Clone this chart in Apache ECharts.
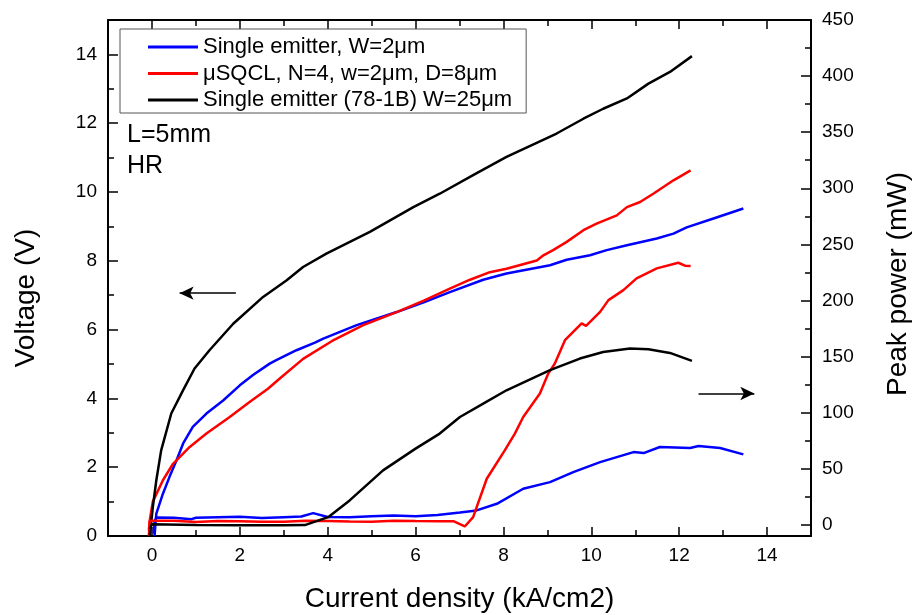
<!DOCTYPE html>
<html>
<head>
<meta charset="utf-8">
<script src="https://cdn.jsdelivr.net/npm/echarts@6/dist/echarts.min.js"></script>
<style>
html,body{margin:0;padding:0;background:#fff;}
#chart{width:915px;height:615px;}
</style>
</head>
<body>
<div id="chart"></div>
<script>
// ---------- data (x: current density kA/cm2) ----------
const seriesNames = ['Single emitter, W=2\u03bcm', '\u03bcSQCL, N=4, w=2\u03bcm, D=8\u03bcm', 'Single emitter (78-1B) W=25\u03bcm'];

// Voltage (V), left axis
const blueVoltage = [[0.06,0.0],[0.08,0.35],[0.1,0.65],[0.25,1.23],[0.4,1.72],[0.56,2.2],[0.71,2.69],[0.93,3.17],[1.24,3.56],[1.62,3.94],[2.0,4.38],[2.3,4.68],[2.68,5.01],[2.83,5.11],[3.29,5.4],[3.71,5.62],[3.9,5.74],[4.66,6.13],[5.57,6.51],[6.2,6.8],[6.78,7.09],[7.54,7.45],[8.07,7.63],[9.06,7.87],[9.44,8.03],[9.97,8.16],[10.35,8.31],[10.81,8.45],[11.49,8.65],[11.87,8.79],[12.17,8.97],[12.78,9.23],[13.46,9.52]];
const redVoltage = [[-0.07,0.0],[-0.05,0.45],[0.02,1.0],[0.25,1.62],[0.48,2.1],[0.86,2.59],[1.24,2.98],[1.77,3.46],[2.23,3.9],[2.64,4.28],[2.91,4.58],[3.44,5.15],[4.1,5.67],[4.81,6.13],[5.57,6.51],[6.2,6.85],[6.78,7.19],[7.24,7.45],[7.69,7.67],[8.07,7.77],[8.76,8.01],[8.91,8.16],[9.13,8.31],[9.44,8.55],[9.82,8.89],[10.12,9.08],[10.58,9.32],[10.81,9.56],[11.11,9.71],[11.41,9.95],[11.87,10.34],[12.26,10.63]];
const blackVoltage = [[-0.05,0.0],[0.02,0.84],[0.1,1.62],[0.21,2.49],[0.44,3.56],[0.71,4.24],[0.97,4.87],[1.31,5.4],[1.85,6.17],[2.53,6.95],[3.06,7.43],[3.44,7.82],[3.97,8.21],[4.96,8.84],[5.95,9.56],[6.55,9.95],[7.31,10.49],[8.07,11.02],[9.21,11.7],[9.82,12.13],[10.27,12.42],[10.81,12.72],[11.3,13.15],[11.79,13.49],[12.29,13.95]];

// Peak power (mW), right axis
const bluePower = [[0.04,-8],[0.06,3],[0.1,6.5],[0.5,6.2],[0.9,5.0],[1.0,6.3],[1.5,6.8],[2.0,7.2],[2.5,6.0],[3.0,6.8],[3.4,7.4],[3.67,10.4],[4.0,7.0],[4.5,6.8],[5.0,7.5],[5.5,8.2],[6.0,7.6],[6.5,8.8],[7.01,11.0],[7.39,12.8],[7.85,18.7],[8.45,32.1],[9.06,38.0],[9.59,47.0],[10.2,55.9],[10.96,64.8],[11.19,63.9],[11.56,69.3],[12.25,68.4],[12.44,70.2],[12.93,68.4],[13.46,62.8]];
const redPower = [[-0.07,-5],[-0.05,3.5],[0.5,3.5],[1.0,2.5],[1.5,3.4],[2.0,3.2],[2.5,2.6],[3.0,2.8],[3.5,3.6],[4.0,3.4],[4.5,2.9],[5.0,2.8],[5.5,3.5],[6.0,3.3],[6.55,3.2],[6.86,3.2],[7.12,-1.5],[7.31,6.8],[7.62,41.0],[8.03,66.3],[8.26,81.3],[8.45,96.1],[8.83,117.0],[9.02,134.8],[9.17,143.8],[9.4,164.6],[9.78,179.5],[9.88,177.4],[10.2,189.8],[10.39,200.3],[10.73,209.2],[11.03,219.7],[11.49,228.6],[11.98,233.6],[12.13,231.0],[12.26,230.6]];
const blackPower = [[-0.05,-4],[0.0,0.5],[1.0,-0.3],[2.0,-0.5],[3.0,-0.5],[3.48,-0.3],[4.01,6.8],[4.5,21.7],[5.26,48.5],[6.0,67.9],[6.55,81.3],[7.01,96.1],[7.54,108.0],[8.07,119.9],[9.06,137.8],[9.74,148.2],[10.27,154.1],[10.88,157.1],[11.3,156.5],[11.79,153.2],[12.29,146.1]];

// Arrows (direction markers) in data coordinates
const leftArrow = [[1.91,7.06],[0.63,7.06]];     // voltage axis
const rightArrow = [[12.44,117],[13.71,117]];    // power axis

// Tick values
const xMajor = [0,2,4,6,8,10,12,14];
const xMinor = [1,3,5,7,9,11,13];
const yLeftMajor = [0,2,4,6,8,10,12,14];
const yLeftMinor = [1,3,5,7,9,11,13];
const yRightMajor = [0,50,100,150,200,250,300,350,400,450];
const yRightMinor = [25,75,125,175,225,275,325,375,425];

const colors = ['#0000ff','#ff0000','#000000'];
const FONT = "'Liberation Sans', Arial, sans-serif";

// ---------- chart ----------
const chart = echarts.init(document.getElementById('chart'));

function xAx(pos, showLine, showLabel, len, vals, name) {
  const a = {
    type: 'value', min: -1, max: 15, position: pos,
    axisLine: { show: showLine, onZero: false, lineStyle: { color: '#000', width: 2 } },
    axisTick: { show: true, inside: true, length: len, customValues: vals, lineStyle: { color: '#000', width: 1.5 } },
    axisLabel: { show: showLabel, customValues: vals, color: '#000', fontSize: 19, fontFamily: FONT, margin: 10 },
    splitLine: { show: false }
  };
  if (name) {
    a.name = name; a.nameLocation = 'middle'; a.nameGap = 49;
    a.nameTextStyle = { fontSize: 28, fontFamily: FONT, color: '#000' };
  }
  return a;
}
function yAx(pos, min, max, showLine, showLabel, len, vals, name, gap, shift) {
  const a = {
    type: 'value', min: min, max: max, position: pos,
    axisLine: { show: showLine, onZero: false, lineStyle: { color: '#000', width: 2 } },
    axisTick: { show: true, inside: true, length: len, customValues: vals, lineStyle: { color: '#000', width: 1.5 } },
    axisLabel: { show: showLabel, customValues: vals, color: '#000', fontSize: 19, fontFamily: FONT, margin: 11 },
    splitLine: { show: false }
  };
  if (name) {
    a.name = name; a.nameLocation = 'middle'; a.nameGap = gap; a.nameRotate = 90;
    a.nameTextStyle = { fontSize: 28, fontFamily: FONT, color: '#000', padding: [0, shift, 0, 0] };
  }
  return a;
}

function lineSeries(name, data, color, yIdx, extra) {
  return Object.assign({
    type: 'line', name: name, data: data, xAxisIndex: 0, yAxisIndex: yIdx,
    symbol: 'none', showSymbol: false, smooth: false,
    lineStyle: { color: color, width: 2.5 }, itemStyle: { color: color }
  }, extra || {});
}

function arrowMark(pts, color) {
  return {
    markLine: {
      silent: true, animation: false,
      symbol: ['none', 'arrow'], symbolSize: [10, 14],
      label: { show: false },
      lineStyle: { color: color, width: 1.5, type: 'solid' },
      data: [[{ coord: pts[0] }, { coord: pts[1] }]]
    }
  };
}

chart.setOption({
  animation: false,
  backgroundColor: '#fff',
  textStyle: { fontFamily: FONT },
  grid: { left: 108, right: 104, top: 20, bottom: 79, containLabel: false, outerBoundsMode: 'none' },
  legend: {
    orient: 'vertical', left: 120, top: 29,
    padding: [5, 14, 0, 28],
    icon: 'rect',
    itemWidth: 50, itemHeight: 3, itemGap: 0.5,
    borderColor: '#555', borderWidth: 1,
    textStyle: { fontSize: 22, color: '#000', fontFamily: FONT, lineHeight: 26 },
    data: seriesNames
  },
  graphic: [
    { type: 'text', left: 127, top: 123, style: { text: 'L=5mm', font: '25px ' + FONT, fill: '#000' } },
    { type: 'text', left: 127, top: 154, style: { text: 'HR', font: '25px ' + FONT, fill: '#000' } }
  ],
  xAxis: [
    xAx('bottom', true, true, 9, xMajor, 'Current density (kA/cm2)'),
    xAx('bottom', false, false, 6, xMinor),
    xAx('top', true, false, 9, xMajor),
    xAx('top', false, false, 6, xMinor)
  ],
  yAxis: [
    yAx('left', 0, 15, true, true, 10, yLeftMajor, 'Voltage (V)', 68, 40),
    yAx('left', 0, 15, false, false, 6, yLeftMinor),
    yAx('right', -10, 450, true, true, 10, yRightMajor, 'Peak power (mW)', 73, 12),
    yAx('right', -10, 450, false, false, 6, yRightMinor)
  ],
  series: [
    lineSeries(seriesNames[0], blueVoltage, colors[0], 0),
    lineSeries(seriesNames[1], redVoltage, colors[1], 0),
    lineSeries(seriesNames[2], blackVoltage, colors[2], 0, arrowMark(leftArrow, '#000')),
    lineSeries(seriesNames[0], bluePower, colors[0], 2),
    lineSeries(seriesNames[1], redPower, colors[1], 2),
    lineSeries(seriesNames[2], blackPower, colors[2], 2, arrowMark(rightArrow, '#000'))
  ]
});
</script>
</body>
</html>
